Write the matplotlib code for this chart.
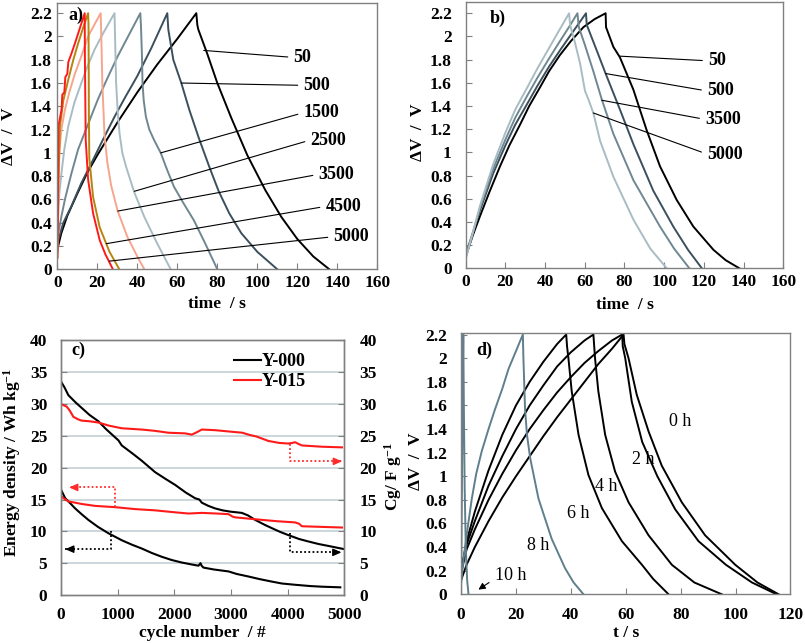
import matplotlib
matplotlib.use('Agg')
from matplotlib import pyplot as plt
from matplotlib.ticker import FormatStrFormatter, MultipleLocator

plt.rcParams['font.family'] = ['Liberation Serif', 'DejaVu Serif']
plt.rcParams['font.weight'] = 'bold'
plt.rcParams['mathtext.fontset'] = 'custom'
plt.rcParams['mathtext.rm'] = 'Liberation Serif:bold'
plt.rcParams['mathtext.bf'] = 'Liberation Serif:bold'
plt.rcParams['mathtext.default'] = 'rm'

# ---- panel a: charge/discharge at several cycle numbers (Y-000) ----
a_names = ['50', '500', '1500', '2500', '3500', '4500', '5000']
a_colors = ['#000000', '#3b4f5c', '#6f8791', '#a9bcc4', '#f7a58d', '#b5860f', '#ff1a1a']

a_t50 = [0, 2, 5, 10, 15, 20, 30, 40, 50, 60, 69.5, 70, 70.5, 75, 80, 87, 95, 104, 112, 120, 128, 136]
a_v50 = [0.17, 0.31, 0.46, 0.65, 0.83, 0.98, 1.26, 1.52, 1.76, 1.98, 2.2, 2.1, 2.06, 1.85, 1.6, 1.3, 0.98, 0.68, 0.45, 0.26, 0.11, 0]
a_t500 = [0, 0.5, 3, 7, 12, 17, 23, 28.6, 34, 40, 47, 55, 55.5, 58, 62, 66, 70.7, 76, 80.7, 86, 92, 100, 110]
a_v500 = [0.15, 0.25, 0.4, 0.54, 0.74, 0.91, 1.12, 1.31, 1.48, 1.66, 1.9, 2.2, 2.06, 1.8, 1.6, 1.37, 1.13, 0.88, 0.67, 0.48, 0.31, 0.15, 0]
a_t1500 = [0, 0.5, 2, 3.8, 7, 10.4, 15, 20.3, 25, 30.2, 36, 41.5, 41.8, 42.3, 42.6, 43.2, 44.3, 46, 48.4, 51.7, 55, 58.3, 63, 68.3, 74, 80]
a_v1500 = [0.2, 0.31, 0.45, 0.6, 0.82, 1.03, 1.23, 1.46, 1.64, 1.83, 2.02, 2.2, 2.1, 1.85, 1.6, 1.45, 1.31, 1.2, 1.11, 1.0, 0.85, 0.71, 0.57, 0.42, 0.22, 0]
a_t2500 = [0, 0.5, 1, 2.1, 3.5, 5.5, 8.5, 12, 15, 18.7, 23, 28.6, 28.8, 29.4, 30.2, 31.1, 32.5, 34.4, 38.5, 43.5, 50, 56.7]
a_v2500 = [0.3, 0.48, 0.65, 0.83, 1.03, 1.23, 1.43, 1.6, 1.74, 1.89, 2.03, 2.2, 2.05, 1.6, 1.35, 1.17, 1.0, 0.88, 0.66, 0.45, 0.22, 0]
a_t3500 = [0, 0.3, 1, 2, 3.8, 6, 8.8, 12, 15.4, 18.5, 21.7, 22, 22.5, 23.6, 25, 26.9, 30.2, 35, 40, 43.5]
a_v3500 = [0.1, 0.6, 1.0, 1.2, 1.37, 1.52, 1.68, 1.83, 2.0, 2.1, 2.2, 2.0, 1.6, 1.15, 0.92, 0.72, 0.5, 0.28, 0.11, 0]
a_t4500 = [0, 0.5, 1.3, 3, 5.5, 8, 10.4, 13, 15.4, 15.6, 15.8, 16, 17.9, 21.2, 26.1, 31]
a_v4500 = [0.1, 0.7, 1.23, 1.45, 1.63, 1.8, 1.94, 2.08, 2.2, 2.1, 1.3, 0.95, 0.62, 0.36, 0.15, 0]
a_t5000 = [0, 0.3, 0.5, 1, 2.1, 2.5, 3.5, 4, 5, 5.5, 7, 8.8, 12, 13.7, 13.8, 14.2, 15.4, 17.9, 21.2, 24, 27.8]
a_v5000 = [0.1, 0.5, 1.23, 1.27, 1.37, 1.5, 1.52, 1.65, 1.68, 1.78, 1.85, 1.94, 2.11, 2.2, 1.8, 1.11, 0.77, 0.48, 0.25, 0.13, 0]
a_times = [a_t50, a_t500, a_t1500, a_t2500, a_t3500, a_t4500, a_t5000]
a_volts = [a_v50, a_v500, a_v1500, a_v2500, a_v3500, a_v4500, a_v5000]
a_pts = [(73.2, 1.88), (62, 1.6), (51.7, 1.0), (38.5, 0.67), (30.2, 0.5), (24.5, 0.22), (26, 0.07)]
a_txt = [(118, 1.82), (123, 1.58), (123, 1.345), (126.5, 1.11), (130.5, 0.815), (134, 0.54), (138, 0.28)]

# ---- panel b: Y-015 ----
b_names = ['50', '500', '3500', '5000']
b_colors = ['#000000', '#3b4f5c', '#6f8791', '#a9bcc4']
b_t50 = [0, 3.5, 7.2, 12, 17.3, 22, 27.4, 32, 37.4, 42, 47.5, 53, 59.3, 65, 70.5, 70.7, 74.4, 77.7, 84.5, 91.2, 97.9, 106.3, 114.7, 124.8, 131, 137.9]
b_v50 = [0.1, 0.28, 0.45, 0.66, 0.88, 1.06, 1.24, 1.4, 1.56, 1.7, 1.84, 1.96, 2.08, 2.15, 2.2, 2.08, 1.91, 1.82, 1.54, 1.19, 0.88, 0.59, 0.36, 0.16, 0.07, 0]
b_t500 = [0, 3.5, 7.2, 13.9, 20, 25, 30.7, 36, 42, 47.5, 54, 60.6, 61, 66, 70.5, 77.7, 84.5, 94.5, 104.6, 112, 119]
b_v500 = [0.12, 0.3, 0.5, 0.82, 1.06, 1.24, 1.41, 1.57, 1.74, 1.88, 2.04, 2.2, 2.1, 1.88, 1.68, 1.37, 1.07, 0.67, 0.36, 0.16, 0]
b_t3500 = [0, 3.5, 7.2, 13.9, 20, 25, 30.7, 36, 42, 47.5, 52, 56.3, 57, 60, 64.3, 68.5, 74.4, 84.5, 97.9, 105, 112.7]
b_v3500 = [0.1, 0.3, 0.52, 0.86, 1.11, 1.3, 1.48, 1.64, 1.81, 1.96, 2.08, 2.2, 2.08, 1.93, 1.7, 1.46, 1.16, 0.76, 0.36, 0.17, 0]
b_t5000 = [0, 3.5, 7.2, 13.9, 20, 25, 30.7, 36, 41, 46, 52.1, 52.6, 55, 57.6, 60.1, 62, 64.3, 67.7, 74.4, 84.5, 93, 101.3]
b_v5000 = [0.08, 0.3, 0.54, 0.9, 1.17, 1.37, 1.55, 1.72, 1.87, 2.02, 2.2, 2.1, 1.95, 1.77, 1.53, 1.45, 1.34, 1.1, 0.79, 0.42, 0.17, 0]
b_times = [b_t50, b_t500, b_t3500, b_t5000]
b_volts = [b_v50, b_v500, b_v3500, b_v5000]
b_pts = [(77.7, 1.83), (70.5, 1.68), (68.5, 1.45), (64.3, 1.34)]
b_txt = [(122, 1.79), (121.5, 1.53), (120.5, 1.285), (121.5, 0.986)]

# ---- panel c: cycling ----
c_n_y000_cg = [0, 60, 127, 250, 362, 500, 657, 800, 1011, 1070, 1250, 1423, 1659, 1850, 2013, 2200, 2366, 2440, 2484, 2600, 2720, 2850, 2985, 3190, 3300, 3426, 3600, 3721, 3870, 4015, 4200, 4369, 4550, 4723, 5000]
c_y000_cg = [33.5, 32.6, 31.4, 30.3, 29.4, 28.3, 27.3, 26.0, 24.3, 23.5, 22.3, 21.1, 19.3, 18.2, 17.3, 16.1, 15.2, 15.0, 14.5, 14.0, 13.6, 13.3, 13.1, 12.9, 12.5, 11.8, 11.0, 10.5, 9.9, 9.4, 8.8, 8.4, 8.0, 7.7, 7.2]
c_n_y015_cg = [0, 97, 150, 215, 300, 362, 500, 657, 850, 1070, 1423, 1650, 1894, 2188, 2307, 2400, 2484, 2720, 3073, 3200, 3309, 3450, 3662, 3850, 4015, 4080, 4133, 4200, 4251, 4605, 4959]
c_y015_cg = [30.0, 29.6, 29.0, 28.0, 27.6, 27.4, 27.3, 27.1, 26.6, 26.2, 26.0, 25.8, 25.5, 25.4, 25.2, 25.6, 26.0, 25.9, 25.6, 25.5, 25.2, 24.9, 24.2, 23.9, 23.8, 23.9, 24.0, 23.7, 23.5, 23.3, 23.2]
c_n_y015_e = [0, 60, 127, 250, 362, 600, 951, 1300, 1659, 2000, 2248, 2484, 2750, 2956, 3030, 3073, 3426, 3800, 4133, 4200, 4251, 4600, 4959]
c_y015_e = [15.5, 15.1, 14.7, 14.5, 14.3, 14.0, 13.8, 13.5, 13.3, 13.0, 12.8, 12.9, 12.8, 12.7, 12.3, 12.2, 11.9, 11.6, 11.4, 11.2, 10.8, 10.7, 10.6]
c_n_y000_e = [0, 71, 150, 247, 360, 480, 650, 834, 1070, 1250, 1423, 1600, 1777, 1950, 2130, 2300, 2425, 2460, 2480, 2513, 2700, 2956, 3100, 3309, 3500, 3721, 3900, 4133, 4400, 4605, 4929]
c_y000_e = [16.5, 15.2, 14.5, 13.6, 12.7, 11.8, 10.7, 9.7, 8.6, 7.9, 7.3, 6.6, 6.0, 5.5, 5.1, 4.8, 4.6, 5.0, 4.6, 4.3, 4.0, 3.7, 3.3, 2.9, 2.5, 2.1, 1.8, 1.6, 1.4, 1.3, 1.2]
c_series = ['Y-000', 'Y-015']

# dotted arrows: (cycles, values, colour)
c_arrows = [([951, 951, 140], [13.9, 16.9, 16.9], '#ff2a2a'),
            ([881, 881, 70], [10.0, 7.2, 7.2], '#000000'),
            ([4034, 4034, 4960], [23.8, 21.0, 21.0], '#ff2a2a'),
            ([4034, 4034, 4950], [9.7, 6.7, 6.7], '#000000')]

# ---- panel d: ageing time ----
d_names = ['0 h', '2 h', '4 h', '6 h', '8 h', '10 h']
d_colors = ['#000000', '#000000', '#000000', '#000000', '#5f7f8c', '#5f7f8c']
d_t0 = [0, 2, 5, 10, 15, 20, 25, 30, 35, 40, 45, 50, 55, 59.2, 59.5, 61, 64, 68.3, 73.1, 80.4, 88.9, 99.9, 108, 115.7]
d_v0 = [0.12, 0.25, 0.4, 0.62, 0.82, 1.0, 1.17, 1.34, 1.5, 1.65, 1.8, 1.95, 2.08, 2.2, 2.12, 2.0, 1.69, 1.38, 1.09, 0.78, 0.5, 0.25, 0.1, 0]
d_t2 = [0, 2, 5, 10, 15, 20, 25, 30, 35, 40, 45, 50, 55, 58.7, 58.9, 59.8, 62.2, 66, 71.5, 78, 86.5, 96.5, 106, 115]
d_v2 = [0.18, 0.38, 0.55, 0.8, 1.02, 1.22, 1.4, 1.56, 1.71, 1.84, 1.96, 2.06, 2.15, 2.2, 2.1, 2.0, 1.63, 1.29, 1.0, 0.72, 0.45, 0.25, 0.1, 0]
d_t4 = [0, 2, 5, 10, 15, 20, 25, 30, 35, 40, 45, 48.2, 48.5, 48.8, 50, 52.5, 56.1, 61, 68.3, 76.8, 85, 95]
d_v4 = [0.2, 0.42, 0.62, 0.92, 1.17, 1.4, 1.6, 1.77, 1.93, 2.05, 2.15, 2.2, 2.1, 2.0, 1.72, 1.35, 1.04, 0.78, 0.5, 0.25, 0.1, 0]
d_t6 = [0, 2, 5, 10, 15, 20, 25, 30, 35, 38.3, 38.6, 39.1, 40.3, 42.8, 46.4, 51.3, 58.6, 65.9, 70, 75.6]
d_v6 = [0.2, 0.45, 0.7, 1.05, 1.35, 1.6, 1.8, 1.97, 2.12, 2.2, 2.1, 2.0, 1.72, 1.35, 1.01, 0.73, 0.45, 0.25, 0.13, 0]
d_t8 = [0, 0.9, 2.3, 3.9, 5.5, 7.5, 10, 12.4, 15, 17.3, 20, 22.5, 22.7, 23.3, 24, 25.2, 28.2, 33, 37.9, 41, 44.6]
d_v8 = [0.1, 0.3, 0.55, 0.81, 1.02, 1.21, 1.4, 1.57, 1.74, 1.91, 2.06, 2.2, 2.0, 1.57, 1.35, 1.15, 0.81, 0.47, 0.22, 0.1, 0]
d_t10 = [0, 0.3, 0.6, 0.8, 1.0, 1.3, 1.7, 2.2, 2.7]
d_v10 = [0.0, 0.9, 1.8, 2.2, 1.6, 0.9, 0.4, 0.12, 0]
d_times = [d_t0, d_t2, d_t4, d_t6, d_t8, d_t10]
d_volts = [d_v0, d_v2, d_v4, d_v6, d_v8, d_v10]
d_txt = [(75.6, 1.46), (62.2, 1.14), (48.8, 0.91), (38.5, 0.685), (23.9, 0.417), (12.4, 0.158)]

SPINE = '#808080'
TICK = 12.5


def style(ax, xpad, ypad):
    for s in ax.spines.values():
        s.set_color(SPINE)
        s.set_linewidth(1.0)
    ax.tick_params(direction='in', length=4, width=0.8, color=SPINE, labelsize=TICK)
    ax.tick_params(axis='x', pad=xpad)
    ax.tick_params(axis='y', pad=ypad)


fig = plt.figure(figsize=(8.05, 6.43), dpi=100)

# panel a
ax = fig.add_axes([0.0712, 0.5812, 0.3975, 0.4146])
for t, v, c in zip(a_times, a_volts, a_colors):
    ax.plot(t, v, color=c, lw=1.4)
for name, p, q in zip(a_names, a_pts, a_txt):
    ax.annotate(name, xy=p, xytext=q, fontsize=13, fontweight='bold', ha='left', va='center',
                arrowprops=dict(arrowstyle='-', lw=0.8, color='black', shrinkA=2, shrinkB=0, relpos=(0, 0.5)))
ax.text(5.4, 2.18, 'a)', fontsize=13, fontweight='bold', va='center')
ax.set_xlim(0, 160)
ax.xaxis.set_major_locator(MultipleLocator(20))
ax.yaxis.set_major_locator(MultipleLocator(0.2))
ax.yaxis.set_major_formatter(FormatStrFormatter('%g'))
ax.set_ylim(0, 2.29)
style(ax, 4, 4)
ax.set_xlabel('time  / s', fontsize=12.5, fontweight='bold', va='center')
ax.set_ylabel('ΔV  /  V', fontsize=12.5, fontweight='bold', va='center')
ax.xaxis.set_label_coords(0.5, -0.130)
ax.yaxis.set_label_coords(-0.150, 0.5)

# panel b
ax = fig.add_axes([0.5785, 0.5827, 0.3945, 0.4147])
for t, v, c in zip(b_times, b_volts, b_colors):
    ax.plot(t, v, color=c, lw=1.4)
for name, p, q in zip(b_names, b_pts, b_txt):
    ax.annotate(name, xy=p, xytext=q, fontsize=13, fontweight='bold', ha='left', va='center',
                arrowprops=dict(arrowstyle='-', lw=0.8, color='black', shrinkA=2, shrinkB=0, relpos=(0, 0.5)))
ax.text(12.3, 2.157, 'b)', fontsize=13, fontweight='bold', va='center')
ax.set_xlim(0, 160)
ax.xaxis.set_major_locator(MultipleLocator(20))
ax.yaxis.set_major_locator(MultipleLocator(0.2))
ax.yaxis.set_major_formatter(FormatStrFormatter('%g'))
ax.set_ylim(0, 2.3)
style(ax, 4, 10)
ax.set_xlabel('time  / s', fontsize=12.5, fontweight='bold', va='center')
ax.set_ylabel('ΔV  /  V', fontsize=12.5, fontweight='bold', va='center')
ax.xaxis.set_label_coords(0.5, -0.136)
ax.yaxis.set_label_coords(-0.150, 0.51)

# panel c
ax = fig.add_axes([0.0760, 0.0747, 0.3517, 0.3958])
for yv in range(5, 40, 5):
    ax.axhline(yv, color='#c5d0d6', lw=1.2, zorder=0)
ax.plot(c_n_y000_cg, c_y000_cg, color='black', lw=1.5, label=c_series[0])
ax.plot(c_n_y015_cg, c_y015_cg, color='#ff1a1a', lw=1.5, label=c_series[1])
ax.plot(c_n_y000_e, c_y000_e, color='black', lw=1.5)
ax.plot(c_n_y015_e, c_y015_e, color='#ff1a1a', lw=1.5)
for xs, ys, col in c_arrows:
    ax.plot(xs, ys, color=col, lw=1.3, ls=(0, (1, 1.3)))
    dx = 120 if xs[-1] > xs[-2] else -120
    ax.annotate('', xy=(xs[-1], ys[-1]), xytext=(xs[-1] - dx, ys[-1]),
                arrowprops=dict(arrowstyle='-|>,head_length=0.5,head_width=0.22', color=col, lw=1.0,
                                shrinkA=0, shrinkB=0))
leg = ax.legend(loc='upper left', bbox_to_anchor=(0.612, 0.95), frameon=False,
                prop={'size': 13, 'weight': 'bold'},
                handlelength=1.45, handletextpad=0.05, labelspacing=0.15, borderpad=0, borderaxespad=0)
ax.text(173, 38.5, 'c)', fontsize=13, fontweight='bold', va='center')
ax.set_xlim(0, 5000)
ax.set_ylim(0, 40)
ax.xaxis.set_major_locator(MultipleLocator(1000))
ax.yaxis.set_major_locator(MultipleLocator(5))
style(ax, 9, 10)
ax.set_xlabel('cycle number  / #', fontsize=12.5, fontweight='bold', va='center')
ax.set_ylabel('Energy density / Wh kg$^{-1}$', fontsize=12.5, fontweight='bold', va='center')
ax.xaxis.set_label_coords(0.5, -0.150)
ax.yaxis.set_label_coords(-0.172, 0.52)
ax2 = ax.twinx()
ax2.set_ylim(0, 40)
ax2.yaxis.set_major_locator(MultipleLocator(5))
style(ax2, 9, 11)
ax2.set_ylabel('Cg/ F g$^{-1}$', fontsize=12.5, fontweight='bold', va='center')
ax2.yaxis.set_label_coords(1.172, 0.465)

# panel d
ax = fig.add_axes([0.5728, 0.0757, 0.4091, 0.4059])
for t, v, c in zip(d_times, d_volts, d_colors):
    ax.plot(t, v, color=c, lw=1.4)
for name, q in zip(d_names, d_txt):
    ax.text(q[0], q[1], name, fontsize=13, fontweight='normal', ha='left', va='center')
ax.annotate('', xy=(6.3, 0.04), xytext=(10.2, 0.1),
            arrowprops=dict(arrowstyle='-|>,head_length=0.4,head_width=0.2', color='black', lw=0.8,
                            shrinkA=0, shrinkB=0))
ax.text(5.7, 2.067, 'd)', fontsize=13, fontweight='bold', va='center')
ax.set_xlim(0, 120)
ax.xaxis.set_major_locator(MultipleLocator(20))
ax.yaxis.set_major_locator(MultipleLocator(0.2))
ax.yaxis.set_major_formatter(FormatStrFormatter('%g'))
ax.set_ylim(0, 2.21)
style(ax, 9, 10)
ax.set_xlabel('t / s', fontsize=12.5, fontweight='bold', va='center')
ax.set_ylabel('ΔV  /  V', fontsize=12.5, fontweight='bold', va='center')
ax.xaxis.set_label_coords(0.5, -0.149)
ax.yaxis.set_label_coords(-0.138, 0.51)

# make all tick labels bold once the ticks are final
fig.canvas.draw()
for a in fig.axes:
    for lab in a.get_xticklabels() + a.get_yticklabels():
        lab.set_fontweight('bold')

fig.savefig('out.png', dpi=100)
